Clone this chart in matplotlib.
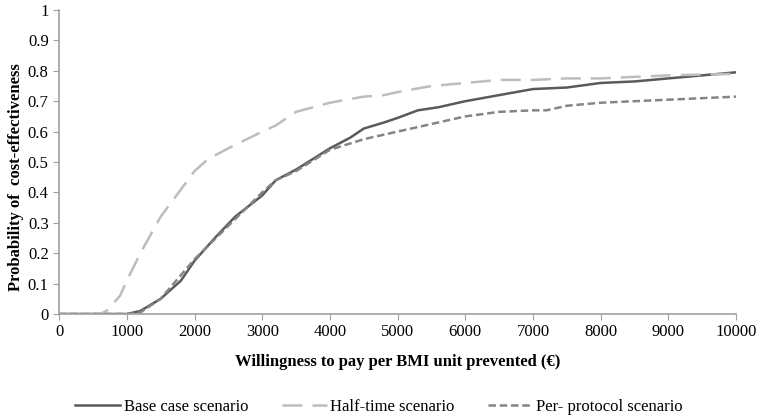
import matplotlib.pyplot as plt

plt.rcParams['font.family'] = ['Liberation Serif', 'DejaVu Serif']

wtp_base = [0, 500, 1000, 1200, 1500, 1800, 2000, 2300, 2600, 3000, 3200, 3500,
            4000, 4300, 4500, 4800, 5000, 5300, 5600, 6000, 6500, 7000, 7500,
            8000, 8500, 9000, 9500, 10000]
base = [0, 0, 0, 0.01, 0.05, 0.11, 0.175, 0.25, 0.32, 0.39, 0.44, 0.475,
        0.545, 0.58, 0.61, 0.63, 0.645, 0.67, 0.68, 0.70, 0.72, 0.74, 0.745,
        0.76, 0.765, 0.775, 0.785, 0.795]

wtp_half = [0, 600, 700, 900, 1000, 1200, 1500, 1700, 2000, 2200, 2500, 3000,
            3200, 3500, 4000, 4500, 4800, 5000, 5500, 6000, 6500, 7000, 7500,
            8000, 8500, 9000, 10000]
half = [0, 0, 0.01, 0.06, 0.11, 0.2, 0.32, 0.38, 0.47, 0.51, 0.545, 0.60,
        0.62, 0.665, 0.695, 0.715, 0.72, 0.73, 0.75, 0.76, 0.77, 0.77, 0.775,
        0.775, 0.78, 0.785, 0.79]

wtp_pp = [0, 1000, 1200, 1500, 2000, 2500, 3000, 3200, 3500, 4000, 4500, 5000,
          5500, 6000, 6500, 7000, 7200, 7500, 8000, 8500, 9000, 10000]
pp = [0, 0, 0.005, 0.05, 0.18, 0.29, 0.40, 0.44, 0.47, 0.54, 0.575, 0.60,
      0.625, 0.65, 0.665, 0.67, 0.67, 0.685, 0.695, 0.70, 0.705, 0.715]

xticks = list(range(0, 10001, 1000))
yticks = [i / 10 for i in range(11)]
ytick_labels = ['0', '0.1', '0.2', '0.3', '0.4', '0.5', '0.6', '0.7', '0.8', '0.9', '1']

fig = plt.figure(figsize=(7.58, 4.17), dpi=100)
ax = fig.add_axes([0.078, 0.247, 0.893, 0.729])

ax.plot(wtp_base, base, color='#5a5a5a', lw=1.8, label='Base case scenario')
ax.plot(wtp_half, half, color='#bdbdbd', lw=1.8, dashes=(8, 4), label='Half-time scenario')
ax.plot(wtp_pp, pp, color='#858585', lw=1.8, dashes=(3, 1.5), label='Per- protocol scenario')

ax.set_xlim(0, 10000)
ax.set_ylim(0, 1)
ax.set_xticks(xticks)
ax.set_yticks(yticks)
ax.set_yticklabels(ytick_labels)
ax.tick_params(labelsize=12, color='#a0a0a0', length=4)
for s in ['top', 'right']:
    ax.spines[s].set_visible(False)
for s in ['left', 'bottom']:
    ax.spines[s].set_color('#a0a0a0')
    ax.spines[s].set_linewidth(1.2)

ax.set_xlabel('Willingness to pay per BMI unit prevented (€)', fontsize=12,
              fontweight='bold', labelpad=10)
ax.set_ylabel('Probability of  cost-effectiveness', fontsize=12, fontweight='bold')
ax.yaxis.set_label_coords(-0.052, 0.45)

fig.legend(loc='lower center', bbox_to_anchor=(0.5, -0.03), ncol=3, frameon=False,
           fontsize=12, handlelength=2.7, handletextpad=0.2, columnspacing=2.0)

fig.savefig('out.png', dpi=100)
